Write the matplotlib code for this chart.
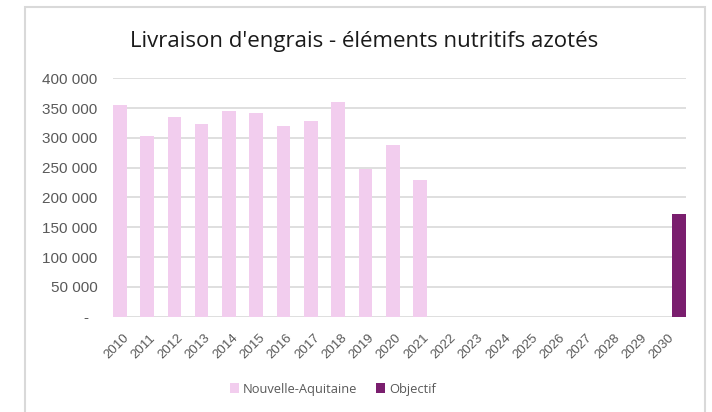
import matplotlib
matplotlib.use("Agg")
import matplotlib.pyplot as plt
from matplotlib.patches import Rectangle
import numpy as np

years = [str(y) for y in range(2010, 2031)]
nouvelle_aquitaine = [355000, 303000, 335000, 323000, 345000, 342000, 320000, 328000, 360000,
                      247000, 288000, 229000, None, None, None, None, None, None, None, None, None]
objectif = [None] * 20 + [173000]
yticks = [0, 50000, 100000, 150000, 200000, 250000, 300000, 350000, 400000]
ytick_labels = ["-  ", "50 000", "100 000", "150 000", "200 000", "250 000", "300 000", "350 000", "400 000"]

W, H = 712, 412
fig = plt.figure(figsize=(W / 100, H / 100), dpi=100)
fig.patch.set_facecolor("white")

# outer chart frame
fig.patches.append(Rectangle((25 / W, -0.05), 680 / W, 1.05 - 7 / H, transform=fig.transFigure,
                             fill=False, edgecolor="#d9d9d9", linewidth=1.5))

ax = fig.add_axes([113 / W, 1 - 316.7 / H, 573 / W, 238.4 / H])
x = np.arange(len(years))
na = np.array([np.nan if v is None else v for v in nouvelle_aquitaine], dtype=float)
ob = np.array([np.nan if v is None else v for v in objectif], dtype=float)
pink = "#f2cdee"
purple = "#7a1e6e"
ax.bar(x - 0.25, na, width=0.5, color=pink, label="Nouvelle-Aquitaine", zorder=3)
ax.bar(x + 0.25, ob, width=0.5, color=purple, label="Objectif", zorder=3)

ax.set_xlim(-0.5, len(years) - 0.5)
ax.set_ylim(0, 400000)
ax.set_yticks(yticks)
ax.set_yticklabels(ytick_labels)
ax.set_xticks(x)
ax.set_xticklabels(years, rotation=45, ha="right", va="center", rotation_mode="anchor")
ax.grid(axis="y", color="#d9d9d9", linewidth=1.2, zorder=0)
ax.set_axisbelow(True)
for s in ax.spines.values():
    s.set_visible(False)
ax.tick_params(axis="both", length=0, colors="#595959")
ax.tick_params(axis="y", pad=11, labelsize=11)
ax.tick_params(axis="x", pad=14, labelsize=9.5)
for lab in ax.get_yticklabels() + ax.get_xticklabels():
    lab.set_fontfamily("Liberation Sans")

fig.text(364 / W, 1 - 42 / H, "Livraison d'engrais - éléments nutritifs azotés",
         ha="center", va="center", fontsize=16, color="#1a1a1a", fontfamily="Open Sans")

leg = fig.legend(loc="center", bbox_to_anchor=(333 / W, 1 - 389 / H), ncol=2, frameon=False,
                 handlelength=0.7, handleheight=0.7, handletextpad=0.3, columnspacing=1.5,
                 prop={"family": "Open Sans", "size": 9.3})
for t in leg.get_texts():
    t.set_color("#595959")

fig.savefig("out.png", dpi=100)
